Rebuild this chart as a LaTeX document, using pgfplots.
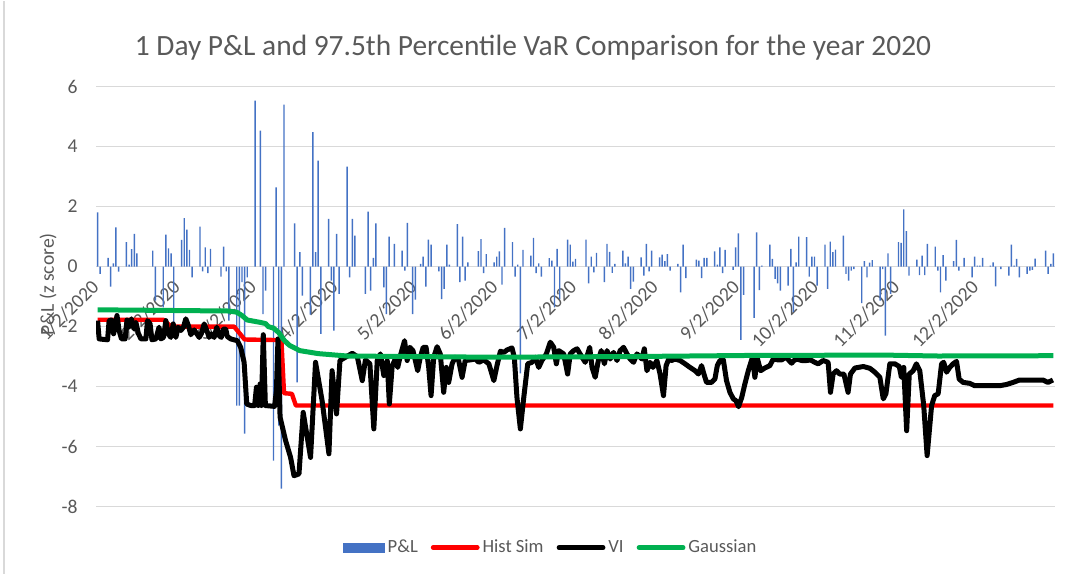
\documentclass[border=0pt]{standalone}
\usepackage{fontspec}
\setmainfont{Carlito}
\usepackage{pgfplots}
\pgfplotsset{compat=1.18}
\definecolor{plblue}{HTML}{4472C4}
\definecolor{gsgreen}{HTML}{00B050}
\definecolor{gridgray}{HTML}{D9D9D9}
\definecolor{txtgray}{HTML}{595959}
\begin{document}
\begin{tikzpicture}
\path (0,0) rectangle (540.5pt,286.5pt);
\draw[gridgray, line width=0.6pt] (2pt,0) -- (2pt,286.5pt);
\begin{axis}[
  set layers,
  at={(48pt,33.5pt)}, anchor=south west,
  scale only axis, width=479.5pt, height=210pt,
  xmin=-0.6, xmax=364.6, ymin=-8, ymax=6,
  axis line style={draw=none},
  major tick length=0pt,
  ytick={-8,-6,-4,-2,0,2,4,6}, yticklabels={-8,-6,-4,-2,0,2,4,6},
  xtick={0,31,60,91,121,152,182,213,244,274,305,335},
  xticklabels={1/2/2020,2/2/2020,3/2/2020,4/2/2020,5/2/2020,6/2/2020,7/2/2020,8/2/2020,9/2/2020,10/2/2020,11/2/2020,12/2/2020},
  ymajorgrids, grid style={gridgray, line width=0.7pt},
  tick label style={font=\fontsize{9.8}{11}\selectfont, text=txtgray},
  yticklabel style={anchor=east, inner sep=0pt, xshift=-9pt},
  xticklabel style={xshift=-1pt, yshift=111.5pt, rotate=45, anchor=east, inner sep=0pt},
  legend columns=4,
  legend style={at={(0.4745,-0.0976)}, anchor=center, draw=none, fill=none,
    font=\fontsize{9.3}{11}\selectfont, text=txtgray,
    nodes={inner xsep=1.5pt},
    /tikz/every even column/.append style={column sep=5pt}},
]
\addplot[ybar, bar width=0.55, bar shift=0pt, fill=plblue, draw=none,
  legend image code/.code={\fill[plblue] (0pt,-2.5pt) rectangle (21pt,2.5pt);}]
coordinates {
(0,1.81)(1,-0.24)(4,0.29)(5,-0.67)(6,0.11)(7,1.31)(8,-0.17)(11,0.82)(12,0.07)(13,0.58)(14,1.09)(15,0.44)
(21,0.53)(22,-1.13)(25,-1.36)(26,1.07)(27,0.61)(28,0.44)(29,-1.9)(32,0.89)(33,1.62)(34,1.23)(35,0.56)(36,-0.36)
(39,1.33)(40,-0.16)(41,0.64)(42,-0.22)(43,0.59)(47,-0.33)(48,0.67)(49,-0.16)(50,-1.8)(53,-4.63)(54,-4.63)(55,-0.52)
(56,-5.57)(57,-0.36)(60,5.53)(62,4.53)(63,-1.58)(64,-0.8)(67,-6.47)(68,2.64)(69,-5.3)(70,-7.4)(71,5.4)
(75,1.44)(76,-3.86)(77,0.48)(78,-0.97)(81,-1.6)(82,4.48)(83,0.48)(84,3.53)(85,-2.24)(88,1.59)(89,-0.47)(90,-2.13)
(91,1.09)(92,-0.91)(95,3.33)(96,-0.36)(97,1.59)(98,1.03)(102,-0.91)(103,1.83)(104,-0.8)(105,0.29)(106,1.44)
(109,-0.69)(110,-1.58)(111,1.0)(113,0.76)(116,0.53)(117,-0.13)(118,1.46)(120,-1.58)(121,-1.1)(123,0.09)(124,0.33)
(125,-0.67)(126,0.9)(127,0.73)(130,-0.16)(131,-1.08)(132,-0.74)(133,0.73)(134,0.07)(137,1.42)(138,-0.52)(139,1.0)
(140,-0.47)(141,0.14)(145,0.52)(146,0.92)(147,-0.22)(148,0.42)(151,0.14)(152,0.33)(153,0.51)(154,-0.6)(155,1.29)
(158,0.82)(159,-0.33)(160,0.07)(161,-3.56)(162,0.56)(165,0.37)(166,0.96)(167,-0.22)(168,0.11)(169,-0.33)
(172,0.28)(173,0.2)(174,-1.36)(175,0.59)(176,-1.08)(179,0.9)(180,0.73)(181,0.17)(182,0.26)(186,0.9)(187,-0.56)
(188,0.33)(189,-0.19)(190,0.46)(193,-0.52)(194,0.76)(195,0.49)(196,-0.21)(197,0.09)(200,0.53)(201,0.11)(202,0.33)
(203,-0.74)(204,-0.5)(207,0.31)(208,-0.3)(209,0.76)(210,-0.16)(211,0.53)(214,0.31)(215,0.4)(216,0.18)(217,0.42)
(218,-0.13)(221,0.09)(222,-0.86)(223,0.73)(224,-0.38)(228,0.23)(229,0.2)(230,-0.38)(231,0.29)(232,0.29)
(235,0.51)(236,0.07)(237,0.64)(238,-0.22)(239,0.56)(242,-0.11)(243,0.64)(244,1.11)(245,-2.44)(246,-0.94)
(250,-1.71)(251,1.14)(252,-0.78)(253,0.03)(256,0.73)(257,0.26)(258,-0.41)(259,-0.56)(260,-0.8)(263,-0.63)
(264,0.59)(265,-1.52)(266,0.14)(267,1.0)(270,0.98)(271,-0.33)(272,0.33)(273,0.33)(274,-0.63)(277,0.73)(278,-0.74)
(279,0.83)(280,0.48)(281,0.57)(284,1.03)(285,-0.24)(286,-0.47)(287,-0.13)(288,-0.08)(291,-1.22)(292,0.18)
(293,-0.36)(294,0.13)(295,0.22)(298,-1.13)(299,-0.08)(300,-2.3)(301,0.44)(302,-0.91)(305,0.82)(306,0.79)
(307,1.91)(308,1.18)(309,-0.3)(312,0.23)(313,-0.28)(314,0.37)(315,-0.28)(316,0.76)(319,0.67)(320,-0.13)
(321,-0.86)(322,0.38)(323,-0.47)(326,0.18)(327,0.89)(328,-0.13)(330,0.29)(333,-0.36)(334,0.33)(335,0.03)
(336,0.03)(337,0.29)(340,0.03)(341,0.14)(342,-0.66)(344,-0.08)(347,-0.3)(348,0.73)(349,0.03)(350,0.26)
(351,-0.36)(354,-0.24)(355,-0.13)(356,-0.11)(357,0.27)(361,0.53)(362,-0.24)(363,0.09)(364,0.44)
};
\addlegendentry{P\&L}
\addplot[red, line width=2.2pt, line join=round,
  legend image code/.code={\draw[red, line width=2.4pt, line cap=round] (0pt,0pt) -- (22pt,0pt);}]
coordinates {(0,-1.77)(25,-1.77)(28,-2.0)(52,-2.0)(56,-2.43)(70,-2.45)(71,-4.22)(74,-4.24)(75.5,-4.63)(364,-4.63)};
\addlegendentry{Hist Sim}
\addplot[black, line width=2.5pt, line join=round,
  legend image code/.code={\draw[black, line width=2.4pt, line cap=round] (0pt,0pt) -- (22pt,0pt);}]
coordinates {
(0,-1.8)(0.6,-2.41)(3.8,-2.44)(4.4,-1.8)(5.3,-1.78)(6.1,-2.24)(6.6,-2.02)(7.4,-1.63)(8.2,-2.13)(9.1,-2.41)
(10.5,-2.41)(11.2,-1.78)(12,-2.02)(12.9,-1.74)(13.9,-2.08)(14.6,-1.86)(15.5,-2.22)(16.5,-2.41)(18.4,-2.41)
(19,-1.8)(20,-1.91)(20.7,-2.44)(22.2,-2.41)(23.4,-2.02)(24.1,-2.41)(25.1,-2.36)(26,-1.8)(26.9,-2.24)(27.9,-2.36)
(28.8,-1.91)(29.8,-2.36)(30.7,-2.02)(31.7,-2.13)(32.7,-2.02)(33.6,-1.74)(34.6,-1.97)(35.5,-2.27)(36.8,-2.11)
(37.8,-2.24)(38.7,-2.36)(39.5,-2.24)(40.6,-1.91)(41.6,-2.13)(42.5,-2.36)(43.3,-2.24)(44.4,-2.36)(45.4,-2.02)
(46.3,-2.3)(47.1,-2.36)(47.9,-2.08)(48.8,-2.08)(49.4,-2.33)(50.7,-2.41)(53.2,-2.47)(54.5,-2.69)(55.8,-3.19)
(56.8,-4.58)(58.3,-4.63)(59.8,-4.63)(60.5,-4.02)(61.2,-4.63)(61.9,-3.91)(62.4,-4.63)(63.1,-2.27)(63.9,-4.63)
(67.4,-4.66)(68.1,-4.13)(68.7,-2.41)(69.5,-5.02)(71.6,-5.8)(73.5,-6.36)(74.8,-6.97)(76.7,-6.91)(78.3,-4.86)
(81.1,-6.36)(83,-3.19)(85.5,-4.47)(88.1,-6.24)(89.3,-3.47)(91,-4.91)(92.3,-3.13)(94.4,-3.02)(97,-2.89)(98.9,-3.0)
(100.8,-3.8)(102,-3.11)(103.7,-3.24)(105.2,-5.41)(106.5,-3.13)(107.7,-2.91)(109,-3.63)(110.3,-3.13)(111.1,-4.58)
(112.2,-3.3)(113.4,-3.08)(114.3,-3.36)(115.3,-2.97)(116.9,-2.47)(117.9,-3.13)(118.9,-2.69)(120.1,-2.8)(121,-3.13)
(121.9,-3.47)(122.9,-3.02)(124,-2.69)(125.1,-2.69)(126.1,-3.36)(127,-4.3)(128,-3.02)(129.3,-2.67)(130.5,-2.91)
(131.8,-4.19)(132.8,-3.36)(133.7,-3.86)(135,-3.24)(136.2,-3.02)(137.5,-3.13)(138.8,-3.69)(140,-3.13)(141.9,-3.11)
(143.8,-3.08)(145.2,-3.19)(147.1,-3.11)(149,-3.24)(150.9,-3.8)(152.1,-3.3)(153.4,-2.82)(154.7,-2.86)(155.9,-2.78)
(157.8,-2.71)(158.7,-3.02)(159.7,-4.36)(161,-5.41)(162.3,-4.36)(163.8,-3.24)(165.4,-3.19)(166.7,-3.02)(168,-3.36)
(169.2,-3.13)(170.9,-2.91)(172.4,-2.52)(173.7,-2.69)(174.7,-3.24)(175.6,-2.8)(177.5,-2.91)(179,-3.58)(180,-2.91)
(181.3,-2.8)(182.6,-2.74)(184.5,-3.02)(185.7,-3.19)(187.4,-2.69)(188.3,-3.36)(189.5,-3.69)(190.8,-3.08)(191.8,-2.8)
(193,-3.24)(194,-2.8)(195.2,-3.08)(196.5,-2.86)(197.8,-3.13)(199,-2.8)(200.3,-2.69)(201.6,-2.91)(202.8,-3.08)
(204.1,-3.19)(205.4,-2.91)(207.3,-3.08)(208.2,-2.74)(209.2,-3.47)(210.4,-3.19)(211.5,-3.36)(213,-3.13)(214.2,-3.58)
(215.5,-4.3)(216.5,-3.3)(217.8,-3.02)(218.6,-3.13)(219.9,-3.08)(221.8,-3.13)(223.7,-3.24)(225.6,-3.36)(227.5,-3.47)
(228.8,-3.58)(230,-3.3)(230.9,-3.58)(231.9,-3.86)(233.8,-3.86)(235.1,-3.74)(236,-3.3)(237,-3.13)(238.3,-3.11)
(239.5,-3.8)(240.8,-4.19)(242.1,-4.41)(243.1,-4.47)(244.1,-4.67)(245.3,-4.36)(246.5,-3.91)(247.8,-3.47)(249.4,-3.02)
(250.3,-3.69)(251.3,-3.08)(252.5,-3.47)(254.1,-3.38)(256,-3.3)(257.3,-3.08)(259.2,-3.11)(260.5,-3.11)(262.1,-3.02)
(263.1,-3.11)(264.3,-3.22)(265.2,-3.13)(266.4,-3.08)(268.1,-3.13)(270,-3.13)(271.5,-3.11)(273.1,-3.19)(274.4,-3.24)
(276.3,-3.13)(278.2,-3.19)(279.1,-4.19)(280.1,-3.58)(281.4,-3.47)(282.6,-3.58)(284.2,-3.58)(285.8,-4.19)(286.7,-3.58)
(288.4,-3.38)(291.6,-3.33)(294.1,-3.39)(296,-3.52)(297.9,-3.69)(299.2,-4.41)(300.2,-4.24)(301.7,-3.24)(303.6,-3.24)
(305.3,-3.33)(306.1,-3.69)(307,-3.36)(308.1,-5.47)(309.1,-3.58)(310.6,-3.47)(311.8,-3.24)(313.1,-3.47)(314.6,-4.63)
(315.9,-6.3)(317.6,-4.63)(318.8,-4.3)(320.1,-4.24)(321.4,-3.24)(322.2,-3.19)(323.3,-3.52)(324.5,-3.36)(325.8,-3.24)
(327.1,-3.16)(328.1,-3.75)(329.6,-3.86)(332.1,-3.89)(334,-3.97)(337.2,-3.97)(343.5,-3.97)(346.1,-3.93)(348.6,-3.86)
(351.1,-3.78)(356.2,-3.78)(360,-3.78)(361.9,-3.86)(363.8,-3.78)
};
\addlegendentry{VI}
\addplot[gsgreen, line width=2.5pt, line join=round,
  legend image code/.code={\draw[gsgreen, line width=2.4pt, line cap=round] (0pt,0pt) -- (22pt,0pt);}]
coordinates {(0,-1.44)(50,-1.48)(53,-1.52)(55,-1.63)(57,-1.78)(62,-1.86)(64,-1.9)(65,-2.0)(67,-2.05)(69,-2.2)
(71,-2.45)(73,-2.62)(77,-2.8)(84,-2.9)(95,-2.98)(150,-3.02)(200,-3.0)(250,-2.96)(300,-2.95)(320,-2.98)(364,-2.97)};
\addlegendentry{Gaussian}
\end{axis}
\node[font=\fontsize{14.7}{17}\selectfont, text=txtgray] at (266.5pt,263pt) {1 Day P\&L and 97.5th Percentile VaR Comparison for the year 2020};
\node[rotate=90, font=\fontsize{9.8}{11}\selectfont, text=txtgray] at (24pt,144.5pt) {P\&L (z score)};
\end{tikzpicture}
\end{document}
